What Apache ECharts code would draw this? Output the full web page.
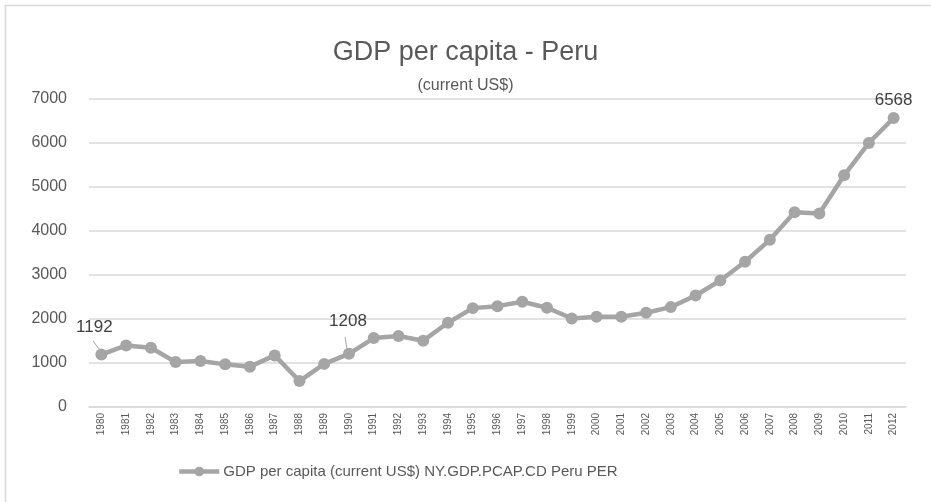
<!DOCTYPE html>
<html>
<head>
<meta charset="utf-8">
<script src="https://cdn.jsdelivr.net/npm/echarts@6/dist/echarts.min.js"></script>
<style>
  html, body { margin: 0; padding: 0; background: #fff; }
  #chart { width: 931px; height: 502px; }
</style>
</head>
<body>
<div id="chart"></div>
<script>
// data
var years = ['1980', '1981', '1982', '1983', '1984', '1985', '1986', '1987', '1988', '1989',
    '1990', '1991', '1992', '1993', '1994', '1995', '1996', '1997', '1998', '1999',
    '2000', '2001', '2002', '2003', '2004', '2005', '2006', '2007', '2008', '2009',
    '2010', '2011', '2012'];
var gdpPerCapita = [1192, 1400, 1348, 1021, 1044, 969, 917, 1173, 590, 980,
    1208, 1566, 1612, 1507, 1915, 2247, 2292, 2392, 2256, 2013,
    2052, 2052, 2142, 2270, 2535, 2876, 3300, 3799, 4426, 4396,
    5266, 6001, 6568];
var labelledYears = { '1980': 'left', '1990': 'mid', '2012': 'end' };

var chart = echarts.init(document.getElementById('chart'));
var font = 'Liberation Sans';
var grey = '#a5a5a5';
var textGrey = '#595959';

var seriesData = gdpPerCapita.map(function (v, i) {
    var y = years[i];
    if (!labelledYears[y]) return v;
    var lab = { show: true, position: 'top', fontSize: 17, color: '#404040', fontFamily: font };
    if (labelledYears[y] === 'left') {
        lab.offset = [-7, -8];
    } else if (labelledYears[y] === 'mid') {
        lab.offset = [-1, -13];
    } else {
        lab.offset = [0, 2];
    }
    return { value: v, label: lab };
});

var option = {
    backgroundColor: '#fff',
    animation: false,
    title: [{
        text: 'GDP per capita - Peru',
        left: 'center',
        top: 34,
        textStyle: { fontFamily: font, fontSize: 27, fontWeight: 'normal', color: textGrey }
    }, {
        text: '(current US$)',
        left: 'center',
        top: 73,
        textStyle: { fontFamily: font, fontSize: 16, fontWeight: 'normal', color: textGrey }
    }],
    graphic: [{
        type: 'rect',
        shape: { x: 5.5, y: 5.5, width: 950, height: 520 },
        style: { fill: null, stroke: '#d9d9d9', lineWidth: 1.5 },
        silent: true
    }, {
        type: 'line',
        shape: { x1: 93, y1: 341, x2: 100, y2: 350 },
        style: { stroke: grey, lineWidth: 1 },
        silent: true
    }, {
        type: 'line',
        shape: { x1: 345, y1: 337, x2: 347, y2: 349 },
        style: { stroke: grey, lineWidth: 1 },
        silent: true
    }],
    legend: {
        bottom: 18,
        left: 172,
        itemWidth: 40,
        itemHeight: 12,
        itemGap: 4,
        lineStyle: { width: 4.5, color: grey },
        textStyle: { fontFamily: font, fontSize: 15, color: textGrey, padding: [0, 0, 0, -1] },
        data: ['GDP per capita (current US$) NY.GDP.PCAP.CD Peru PER']
    },
    grid: { left: 89, right: 25, top: 99, bottom: 95 },
    xAxis: {
        type: 'category',
        data: years,
        boundaryGap: true,
        axisLine: { lineStyle: { color: '#d9d9d9', width: 1.5 } },
        axisTick: { show: false },
        axisLabel: {
            rotate: 90,
            interval: 0,
            fontFamily: font,
            fontSize: 10,
            color: textGrey,
            margin: 6
        }
    },
    yAxis: {
        type: 'value',
        min: 0,
        max: 7000,
        interval: 1000,
        axisLine: { show: false },
        axisTick: { show: false },
        splitLine: { lineStyle: { color: '#d9d9d9', width: 1.5 } },
        axisLabel: {
            fontFamily: font, fontSize: 16, color: textGrey, margin: 22,
            formatter: function (v) { return String(v); }
        }
    },
    series: [{
        name: 'GDP per capita (current US$) NY.GDP.PCAP.CD Peru PER',
        type: 'line',
        data: seriesData,
        symbol: 'circle',
        symbolSize: 12,
        itemStyle: { color: grey },
        lineStyle: { color: grey, width: 4.5 },
        label: { show: false }
    }]
};
chart.setOption(option);
</script>
</body>
</html>
